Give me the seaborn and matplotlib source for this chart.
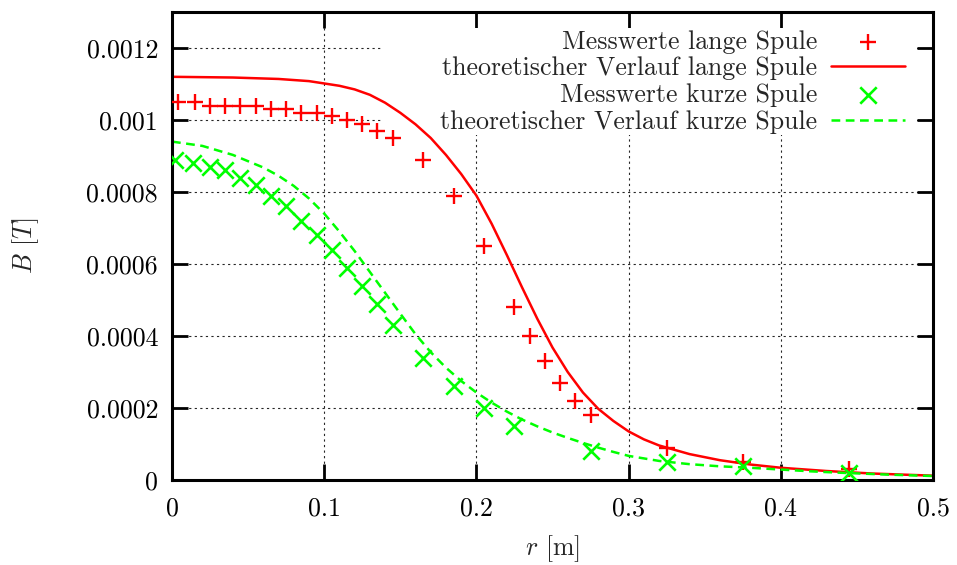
import numpy as np
import pandas as pd
import seaborn as sns
import matplotlib.pyplot as plt
from matplotlib.patches import Rectangle

# Messwerte lange Spule
r_lang = [0.004, 0.015, 0.025, 0.035, 0.045, 0.055, 0.065, 0.075, 0.085, 0.095,
          0.105, 0.115, 0.125, 0.135, 0.145, 0.165, 0.185, 0.205, 0.225, 0.235,
          0.245, 0.255, 0.265, 0.275, 0.325, 0.375, 0.445]
B_lang = [0.00105, 0.00105, 0.00104, 0.00104, 0.00104, 0.00104, 0.00103, 0.00103, 0.00102, 0.00102,
          0.00101, 0.00100, 0.00099, 0.00097, 0.00095, 0.00089, 0.00079, 0.00065, 0.00048, 0.00040,
          0.00033, 0.00027, 0.00022, 0.00018, 0.00009, 0.00005, 0.00003]

# Messwerte kurze Spule
r_kurz = [0.002, 0.014, 0.025, 0.035, 0.045, 0.055, 0.065, 0.075, 0.085, 0.095,
          0.105, 0.115, 0.125, 0.135, 0.145, 0.165, 0.185, 0.205, 0.225, 0.275,
          0.325, 0.375, 0.445]
B_kurz = [0.00089, 0.00088, 0.00087, 0.00086, 0.00084, 0.00082, 0.00079, 0.00076, 0.00072, 0.00068,
          0.00064, 0.00059, 0.00054, 0.00049, 0.00043, 0.00034, 0.00026, 0.00020, 0.00015, 0.00008,
          0.00005, 0.00004, 0.00002]

# theoretischer Verlauf
r_theo_lang = [0, 0.04, 0.07, 0.09, 0.11, 0.12, 0.13, 0.14, 0.15, 0.16, 0.17, 0.18, 0.19,
               0.2, 0.21, 0.22, 0.23, 0.24, 0.25, 0.26, 0.27, 0.28, 0.29, 0.3, 0.31, 0.32,
               0.34, 0.36, 0.38, 0.4, 0.43, 0.46, 0.5]
B_theo_lang = [0.00112, 0.001118, 0.001114, 0.001108, 0.001095, 0.001085, 0.00107, 0.001048,
               0.00102, 0.000988, 0.00095, 0.000903, 0.00085, 0.00079, 0.000712, 0.000625,
               0.000535, 0.000448, 0.000368, 0.0003, 0.000243, 0.000198, 0.000164, 0.000135,
               0.000113, 0.000096, 0.000072, 0.000055, 0.000043, 0.000034, 0.000025,
               0.000018, 0.000012]

r_theo_kurz = [0, 0.02, 0.04, 0.06, 0.07, 0.08, 0.09, 0.1, 0.11, 0.12, 0.13, 0.14, 0.15,
               0.16, 0.17, 0.18, 0.19, 0.2, 0.21, 0.22, 0.23, 0.24, 0.25, 0.26, 0.27, 0.28,
               0.29, 0.3, 0.32, 0.34, 0.36, 0.38, 0.4, 0.42, 0.44, 0.47, 0.5]
B_theo_kurz = [0.00094, 0.000928, 0.000903, 0.000868, 0.000845, 0.000817, 0.000782, 0.00074,
               0.00069, 0.000636, 0.000578, 0.00052, 0.000462, 0.000405, 0.000355, 0.000312,
               0.000275, 0.000243, 0.000215, 0.00019, 0.000168, 0.000149, 0.000132, 0.000117,
               0.000103, 0.00009, 0.000078, 0.000067, 0.000053, 0.000044, 0.000038, 0.000034,
               0.000029, 0.000024, 0.00002, 0.000015, 0.000011]

x_ticks = [0, 0.1, 0.2, 0.3, 0.4, 0.5]
x_ticklabels = ["0", "0.1", "0.2", "0.3", "0.4", "0.5"]
y_ticks = [0, 0.0002, 0.0004, 0.0006, 0.0008, 0.001, 0.0012]
y_ticklabels = ["0", "0.0002", "0.0004", "0.0006", "0.0008", "0.001", "0.0012"]

labels = ["Messwerte lange Spule", "theoretischer Verlauf lange Spule",
          "Messwerte kurze Spule", "theoretischer Verlauf kurze Spule"]

sns.set_style("white")
plt.rcParams["font.family"] = ["cmr10"]
plt.rcParams["mathtext.fontset"] = "cm"
plt.rcParams["axes.formatter.use_mathtext"] = True
fs = 18.6

fig = plt.figure(figsize=(9.57, 5.65), dpi=100)
ax = fig.add_axes([172 / 957, 85 / 565, 761 / 957, 468 / 565])

# key box hides the grid but not the curves (kept clear of the border ticks)
ax.add_patch(Rectangle((0.277, 0.737), 0.702, 0.229, transform=ax.transAxes,
                       facecolor="white", edgecolor="none", zorder=0.8))

sns.scatterplot(x=r_lang, y=B_lang, marker="+", s=135, color="red", linewidth=1.7,
                ax=ax, label=labels[0], zorder=3)
sns.lineplot(x=r_theo_lang, y=B_theo_lang, color="red", linewidth=1.8, sort=False,
             ax=ax, label=labels[1], zorder=2)
sns.scatterplot(x=r_kurz, y=B_kurz, marker="x", s=140, color="#00ff00", linewidth=1.9,
                ax=ax, label=labels[2], zorder=3)
sns.lineplot(x=r_theo_kurz, y=B_theo_kurz, color="#00ff00", linewidth=1.8, sort=False,
             linestyle=(0, (3.5, 2.2)), ax=ax, label=labels[3], zorder=2)

ax.set_xlim(0, 0.5)
ax.set_ylim(0, 0.0013)
ax.set_xticks(x_ticks)
ax.set_xticklabels(x_ticklabels, fontsize=fs)
ax.set_yticks(y_ticks)
ax.set_yticklabels(y_ticklabels, fontsize=fs)
ax.tick_params(direction="in", length=11.5, width=2.0, top=True, right=True,
               bottom=True, left=True, colors="black", pad=10)
ax.tick_params(axis="x", pad=12)

ax.set_axisbelow(True)
ax.grid(True, color="0.15", linewidth=0.8, linestyle=(0, (2, 3)))
for sp in ax.spines.values():
    sp.set_linewidth(2.2)
    sp.set_color("black")

ax.set_xlabel("$r$ [m]", fontsize=fs, va="center")
ax.xaxis.set_label_coords(0.5, -0.147)
ax.set_ylabel("$B$ [$T$]", fontsize=fs, va="center")
ax.yaxis.set_label_coords(-0.193, 0.5)

handles, labs = ax.get_legend_handles_labels()
ax.legend(handles, labs, loc="upper right", bbox_to_anchor=(0.963, 0.962),
          frameon=False, markerfirst=False, fontsize=fs, borderpad=0,
          borderaxespad=0, handlelength=2.85, handletextpad=0.55,
          labelspacing=0.12, scatterpoints=1)

fig.savefig("out.png", dpi=100)
